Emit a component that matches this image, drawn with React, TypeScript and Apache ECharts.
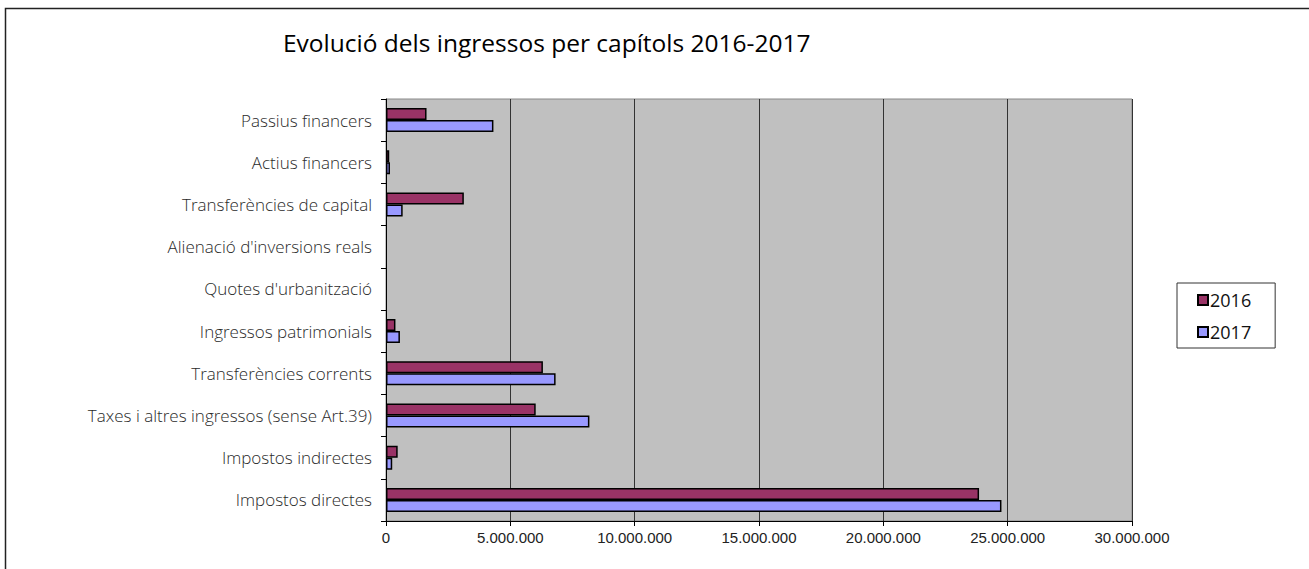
import React, { useEffect, useRef } from "react";
import * as echarts from "echarts";

const categories = [
  "Impostos directes",
  "Impostos indirectes",
  "Taxes i altres ingressos (sense Art.39)",
  "Transferències corrents",
  "Ingressos patrimonials",
  "Quotes d'urbanització",
  "Alienació d'inversions reals",
  "Transferències de capital",
  "Actius financers",
  "Passius financers",
];
const values2016 = [23850000, 470000, 6020000, 6310000, 380000, 0, 0, 3130000, 130000, 1630000];
const values2017 = [24750000, 250000, 8180000, 6820000, 560000, 0, 0, 670000, 160000, 4320000];
const seriesNames = ["2016", "2017"];
const colors = ["#993366", "#9999FF"];

const FONT = "'Open Sans', sans-serif";

function fmt(v: number): string {
  return String(Math.round(v)).replace(/\B(?=(\d{3})+(?!\d))/g, ".");
}

function toData(arr: number[]) {
  return arr.map((v) => (v === 0 ? { value: 0, itemStyle: { borderWidth: 0 } } : v));
}

export default function App() {
  const ref = useRef<HTMLDivElement>(null);
  useEffect(() => {
    document.body.style.margin = "0";
    const chart = echarts.init(ref.current!, null, { renderer: "svg" });
    chart.setOption({
      animation: false,
      backgroundColor: "#ffffff",
      graphic: [
        {
          type: "polyline",
          shape: { points: [[5.5, 600], [5.5, 8.5], [1400, 8.5]] },
          style: { fill: "none", stroke: "#222", lineWidth: 1.5 },
          silent: true,
        },
        {
          type: "text",
          left: 283,
          top: 30,
          style: {
            text: "Evolució dels ingressos per capítols 2016-2017",
            font: `24.5px ${FONT}`,
            fill: "#000",
          },
        },
      ],
      legend: {
        orient: "vertical",
        left: 1177,
        top: 283,
        padding: [8, 24, 7, 20],
        itemWidth: 10,
        itemHeight: 10,
        itemGap: 14,
        icon: "rect",
        borderColor: "#333",
        borderWidth: 1,
        textStyle: { fontFamily: FONT, fontSize: 18, color: "#111", padding: [0, 0, 0, -3] },
        data: seriesNames,
      },
      grid: {
        left: 386,
        top: 99,
        width: 746,
        height: 422,
        show: true,
        backgroundColor: "#C0C0C0",
        borderColor: "#888",
        borderWidth: 1,
      },
      xAxis: {
        type: "value",
        min: 0,
        max: 30000000,
        interval: 5000000,
        axisLine: { show: true, lineStyle: { color: "#000", width: 1 } },
        axisTick: { show: true, length: 5, lineStyle: { color: "#000" } },
        splitLine: { show: true, lineStyle: { color: "#333", width: 1 } },
        axisLabel: {
          fontFamily: "'Liberation Sans', Arial, sans-serif",
          fontSize: 15,
          color: "#222",
          margin: 9,
          formatter: (v: number) => fmt(v),
        },
      },
      yAxis: {
        type: "category",
        data: categories,
        axisLine: { show: true, lineStyle: { color: "#000", width: 1 } },
        axisTick: { show: true, length: 5, lineStyle: { color: "#000" } },
        axisLabel: {
          fontFamily: FONT,
          fontSize: 17,
          fontWeight: 300,
          color: "#2a2a2a",
          margin: 14,
        },
      },
      series: [
        {
          name: seriesNames[0],
          type: "bar",
          data: toData(values2016),
          barWidth: 12,
          barGap: "0%",
          itemStyle: { color: colors[0], borderColor: "#000", borderWidth: 1.5 },
        },
        {
          name: seriesNames[1],
          type: "bar",
          data: toData(values2017),
          barWidth: 12,
          barGap: "0%",
          itemStyle: { color: colors[1], borderColor: "#000", borderWidth: 1.5 },
        },
      ],
    });
    return () => chart.dispose();
  }, []);
  return <div ref={ref} style={{ width: 1309, height: 569 }} />;
}
